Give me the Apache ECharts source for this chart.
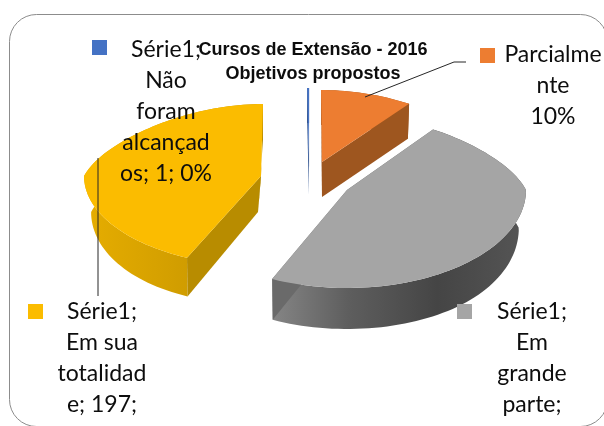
<!DOCTYPE html>
<html><head><meta charset="utf-8">
<style>html,body{margin:0;padding:0;background:#fff}#c{width:604px;height:426px}</style>
<script src="https://cdn.jsdelivr.net/npm/echarts@6/dist/echarts.min.js"></script>
</head><body><div id="c"></div>
<script>
const categories = ["Não foram alcançados", "Parcialmente", "Em grande parte", "Em sua totalidade"];
const values = [1, 46, 215, 197];
const labelTexts = [
  "Série1;\nNão\nforam\nalcançad\nos; 1; 0%",
  "Parcialme\nnte\n10%",
  "Série1;\nEm\ngrande\nparte;",
  "Série1;\nEm sua\ntotalidad\ne; 197;"
];
const topColors = ["#4472C4", "#ED7D31", "#A5A5A5", "#FBBC00"];
const faceColors = ["#2F528F", "#9E561F", "#6A6A6A", "#B88C00"];
const wallStops = [
  [[0, "#2F528F"], [1, "#2F528F"]],
  [[0, "#9E561F"], [1, "#9E561F"]],
  [[0, "#858585"], [0.3, "#5E5E5E"], [0.65, "#454545"], [1, "#555555"]],
  [[0, "#E6AD00"], [0.6, "#CF9C00"], [1, "#BE8F00"]]
];
// Exploded-slice geometry (projection only; angles come from values)
const slices = [
  {ax: 309, ay: 160, a: 170, bb: 72, bf: 96, base: 0,  depth: 35},
  {ax: 322, ay: 162, a: 178, bb: 72, bf: 96, base: 0,  depth: 35},
  {ax: 347, ay: 190, a: 179, bb: 75, bf: 98, base: 0,  depth: 38},
  {ax: 261, ay: 176, a: 177, bb: 72, bf: 90, base: -3, depth: 36}
];
const labelLayout = [
  {sx: 92,  sy: 40,  tx: 166, ty: 34},
  {sx: 480, sy: 48,  tx: 553, ty: 39},
  {sx: 457, sy: 304, tx: 532, ty: 296},
  {sx: 28,  sy: 304, tx: 102, ty: 296}
];
const leaders = [
  null,
  [[365, 97], [454, 62], [466, 62]],
  null,
  [[98, 158], [98, 296]]
];
const vpX = 310, LH = 31;
const total = values.reduce((p, v) => p + v, 0);
const startAngle = -values[0] / total * 360;
const rad = d => d * Math.PI / 180;

function rimTop(s, deg) {
  const t = rad(deg), c = Math.cos(t), sn = Math.sin(t), cp = Math.max(c, 0);
  return [
    s.ax + s.a * sn * (1 - 0.2 * cp) - (s.ax - vpX) * 0.08 * cp,
    s.ay - (c > 0 ? s.bb : s.bf) * c
  ];
}
function rimBottom(s, deg) {
  const t = rad(deg), c = Math.cos(t), sn = Math.sin(t);
  const p = rimTop(s, deg);
  return [
    s.ax + (p[0] - s.ax) * (1 - 0.04 * sn * sn),
    p[1] + s.depth + Math.max(-c, 0) * 3
  ];
}
function arc(fn, s, d0, d1) {
  const n = Math.max(2, Math.ceil(Math.abs(d1 - d0) / 2));
  const out = [];
  for (let i = 0; i <= n; i++) out.push(fn(s, d0 + (d1 - d0) * i / n));
  return out;
}
function renderSlice(params, api) {
  const i = params.dataIndex, s = slices[i], v = api.value(0);
  let before = 0;
  for (let k = 0; k < i; k++) before += values[k];
  const d0 = startAngle + before / total * 360;
  const d1 = d0 + v / total * 360;
  const apex = [s.ax, s.ay], apexB = [s.ax + s.base, s.ay + s.depth];
  const children = [];
  const wall = arc(rimTop, s, d0, d1).concat(arc(rimBottom, s, d1, d0));
  children.push({type: "polygon", shape: {points: wall}, style: {
    fill: {type: "linear", x: 0, y: 0, x2: 1, y2: 0,
      colorStops: wallStops[i].map(c => ({offset: c[0], color: c[1]}))}
  }});
  const faceA = [apex, rimTop(s, d0), rimBottom(s, d0), apexB];
  const faceB = [apex, rimTop(s, d1), rimBottom(s, d1), apexB];
  children.push({type: "polygon", shape: {points: faceB}, style: {fill: faceColors[i]}});
  children.push({type: "polygon", shape: {points: faceA}, style: {fill: faceColors[i]}});
  children.push({type: "polygon", shape: {points: [apex].concat(arc(rimTop, s, d0, d1))},
    style: {fill: topColors[i]}});
  const L = labelLayout[i];
  children.push({type: "rect", z2: 50, shape: {x: L.sx, y: L.sy, width: 15, height: 15},
    style: {fill: topColors[i]}});
  children.push({type: "text", z2: 60, x: L.tx, y: L.ty, style: {
    text: labelTexts[i], fill: "#0D0D0D", align: "center", verticalAlign: "top",
    font: '23px Lato, "Open Sans", sans-serif', lineHeight: LH
  }});
  if (leaders[i]) children.push({type: "polyline", z2: 40, shape: {points: leaders[i]},
    style: {stroke: "#262626", lineWidth: 1, fill: "none"}});
  return {type: "group", children};
}
const chart = echarts.init(document.getElementById("c"), null, {renderer: "canvas"});
chart.setOption({
  animation: false,
  backgroundColor: "#fff",
  title: {
    text: "Cursos de Extensão - 2016\nObjetivos propostos",
    left: 308, top: 33, textAlign: "center", z: 20,
    textStyle: {fontFamily: '"Liberation Sans", Arial, sans-serif', fontWeight: "bold",
      fontSize: 18, lineHeight: 24, color: "#0D0D0D"}
  },
  graphic: [{type: "rect", z: -1, shape: {x: 9.5, y: 14.5, width: 598, height: 412, r: 27},
    style: {fill: "#fff", stroke: "#8C8C8C", lineWidth: 1}}],
  series: [{
    type: "custom", coordinateSystem: "none", silent: true,
    data: categories.map((n, i) => ({name: n, value: [values[i]]})),
    renderItem: renderSlice
  }]
});
</script></body></html>
